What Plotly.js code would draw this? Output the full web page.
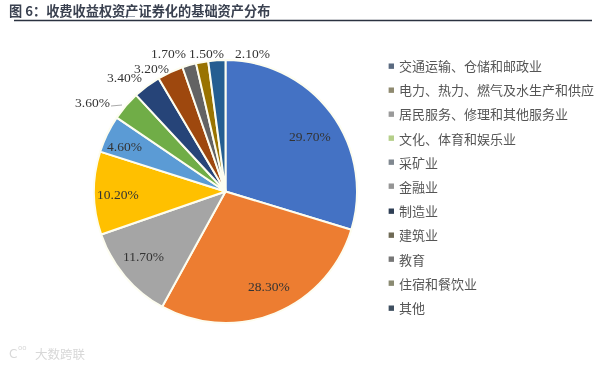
<!DOCTYPE html>
<html><head><meta charset="utf-8">
<script src="https://cdn.plot.ly/plotly-3.0.1.min.js"></script>
<style>html,body{margin:0;padding:0;background:#fff}#c{width:600px;height:366px;filter:blur(0.35px)}</style>
</head><body><div id="c"></div>
<script>
const categories = ['交通运输、仓储和邮政业','电力、热力、燃气及水生产和供应','居民服务、修理和其他服务业','文化、体育和娱乐业','采矿业','金融业','制造业','建筑业','教育','住宿和餐饮业','其他'];
const values = [29.7,28.3,11.7,10.2,4.6,3.6,3.4,3.2,1.7,1.5,2.1];
const colors = ['#4472C4','#ED7D31','#A5A5A5','#FFC000','#5B9BD5','#70AD47','#264478','#9E480E','#636363','#997300','#255E91'];
const swatchColors = ['#5a6a80','#8f8a70','#9a9a9a','#b5cf8a','#808890','#959595','#2f3f55','#6f6a55','#777777','#8a8a72','#3f4f60'];
const labelX = [310,269,143,118,124,92,124,151,168,207,252];
const labelY = [136,286,256,194,146,103,77,68,53,53,54];
const W=600,H=366;
const anns = [];
values.forEach((v,i)=>anns.push({xref:'paper',yref:'paper',x:labelX[i]/W,y:1-labelY[i]/H,text:v.toFixed(2)+'%',showarrow:false,xanchor:'center',yanchor:'middle',font:{family:'Liberation Serif',size:13.5,color:'#333'}}));
const legendTop=65.5, legendStep=24.2;
categories.forEach((c,i)=>{
  anns.push({xref:'paper',yref:'paper',x:386/W,y:1-(legendTop+i*legendStep)/H,text:'■',showarrow:false,xanchor:'left',yanchor:'middle',font:{family:'DejaVu Sans',size:7,color:swatchColors[i]}});
  anns.push({xref:'paper',yref:'paper',x:397/W,y:1-(legendTop+i*legendStep)/H,text:c,showarrow:false,xanchor:'left',yanchor:'middle',font:{family:'Noto Sans CJK SC',size:13,color:'#555'}});
});
anns.push({xref:'paper',yref:'paper',x:7/W,y:1-10/H,text:'<b>图 6：收费收益权资产证券化的基础资产分布</b>',showarrow:false,xanchor:'left',yanchor:'middle',font:{family:'Noto Sans CJK SC',size:13.2,color:'#3a4150'}});
anns.push({xref:'paper',yref:'paper',x:33/W,y:1-353/H,text:'大数跨联',showarrow:false,xanchor:'left',yanchor:'middle',font:{family:'Noto Sans CJK SC',size:12.5,color:'#d8d8d8'}});
anns.push({xref:'paper',yref:'paper',x:7/W,y:1-354/H,text:'C',showarrow:false,xanchor:'left',yanchor:'middle',font:{family:'DejaVu Sans',size:12,color:'#d8d8d8'}});
anns.push({xref:'paper',yref:'paper',x:16/W,y:1-348/H,text:'oo',showarrow:false,xanchor:'left',yanchor:'middle',font:{family:'DejaVu Sans',size:7,color:'#d8d8d8'}});
Plotly.newPlot('c',[{type:'pie',labels:categories,values:values,sort:false,direction:'clockwise',rotation:0,textinfo:'none',hoverinfo:'label+percent',
  marker:{colors:colors,line:{color:'#fdfdf0',width:2}},
  domain:{x:[94/W,357/W],y:[1-323/H,1-60/H]}}],
 {width:W,height:H,margin:{l:0,r:0,t:0,b:0},showlegend:false,paper_bgcolor:'#fff',annotations:anns,
  shapes:[
   {type:'line',xref:'paper',yref:'paper',x0:14/W,x1:592/W,y0:1-20.5/H,y1:1-20.5/H,line:{color:'#2b3240',width:1.5}},
   {type:'line',xref:'paper',yref:'paper',x0:96/W,x1:135/W,y0:1-16.5/H,y1:1-16.5/H,line:{color:'#9aa3b0',width:1}},
   {type:'line',xref:'paper',yref:'paper',x0:111/W,x1:122/W,y0:1-106/H,y1:1-105/H,line:{color:'#aaa',width:1}}
  ]},{displayModeBar:false,staticPlot:true});
</script></body></html>
